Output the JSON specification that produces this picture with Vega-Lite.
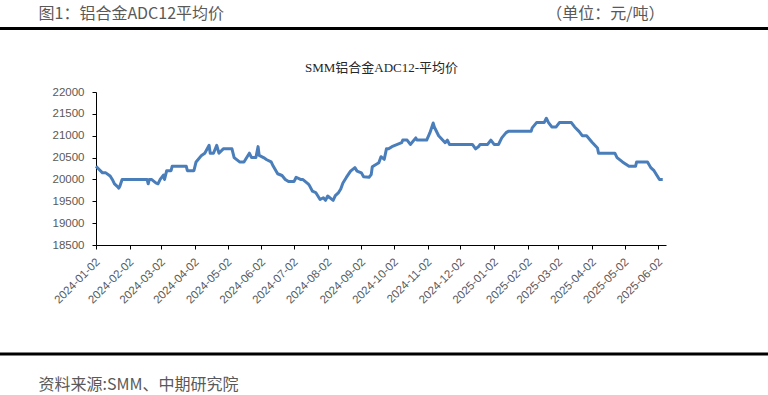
{
  "$schema": "https://vega.github.io/schema/vega-lite/v6.json",
  "width": 570,
  "height": 153,
  "autosize": {"type": "none"},
  "padding": {"left": 96, "top": 92, "right": 102, "bottom": 150},
  "background": "white",
  "config": {"view": {"stroke": null}},
  "resolve": {"axis": {"x": "independent", "y": "independent"}},
  "layer": [
    {
      "data": {"values": [
        {"date": "2024-01-02", "price": 20300},
        {"date": "2024-01-04", "price": 20250},
        {"date": "2024-01-08", "price": 20150},
        {"date": "2024-01-11", "price": 20150},
        {"date": "2024-01-15", "price": 20080},
        {"date": "2024-01-17", "price": 20000},
        {"date": "2024-01-19", "price": 19900},
        {"date": "2024-01-22", "price": 19830},
        {"date": "2024-01-23", "price": 19800},
        {"date": "2024-01-24", "price": 19850},
        {"date": "2024-01-26", "price": 20000},
        {"date": "2024-02-08", "price": 20000},
        {"date": "2024-02-18", "price": 20000},
        {"date": "2024-02-19", "price": 19900},
        {"date": "2024-02-20", "price": 20000},
        {"date": "2024-02-22", "price": 20000},
        {"date": "2024-02-26", "price": 19920},
        {"date": "2024-02-28", "price": 19900},
        {"date": "2024-03-01", "price": 20000},
        {"date": "2024-03-04", "price": 20100},
        {"date": "2024-03-05", "price": 20000},
        {"date": "2024-03-07", "price": 20200},
        {"date": "2024-03-11", "price": 20200},
        {"date": "2024-03-12", "price": 20300},
        {"date": "2024-03-25", "price": 20300},
        {"date": "2024-03-26", "price": 20200},
        {"date": "2024-04-01", "price": 20200},
        {"date": "2024-04-03", "price": 20400},
        {"date": "2024-04-08", "price": 20550},
        {"date": "2024-04-11", "price": 20600},
        {"date": "2024-04-15", "price": 20780},
        {"date": "2024-04-16", "price": 20600},
        {"date": "2024-04-19", "price": 20600},
        {"date": "2024-04-22", "price": 20780},
        {"date": "2024-04-24", "price": 20600},
        {"date": "2024-04-28", "price": 20700},
        {"date": "2024-05-06", "price": 20700},
        {"date": "2024-05-08", "price": 20500},
        {"date": "2024-05-13", "price": 20400},
        {"date": "2024-05-17", "price": 20400},
        {"date": "2024-05-22", "price": 20600},
        {"date": "2024-05-24", "price": 20500},
        {"date": "2024-05-28", "price": 20500},
        {"date": "2024-05-30", "price": 20750},
        {"date": "2024-05-31", "price": 20550},
        {"date": "2024-06-04", "price": 20500},
        {"date": "2024-06-07", "price": 20450},
        {"date": "2024-06-11", "price": 20400},
        {"date": "2024-06-13", "price": 20300},
        {"date": "2024-06-17", "price": 20130},
        {"date": "2024-06-21", "price": 20090},
        {"date": "2024-06-24", "price": 20000},
        {"date": "2024-06-27", "price": 19950},
        {"date": "2024-07-02", "price": 19950},
        {"date": "2024-07-04", "price": 20050},
        {"date": "2024-07-08", "price": 20000},
        {"date": "2024-07-10", "price": 20000},
        {"date": "2024-07-15", "price": 19900},
        {"date": "2024-07-16", "price": 19870},
        {"date": "2024-07-19", "price": 19730},
        {"date": "2024-07-22", "price": 19700},
        {"date": "2024-07-26", "price": 19540},
        {"date": "2024-07-29", "price": 19580},
        {"date": "2024-07-31", "price": 19520},
        {"date": "2024-08-02", "price": 19620},
        {"date": "2024-08-05", "price": 19560},
        {"date": "2024-08-07", "price": 19520},
        {"date": "2024-08-09", "price": 19630},
        {"date": "2024-08-12", "price": 19700},
        {"date": "2024-08-14", "price": 19780},
        {"date": "2024-08-16", "price": 19920},
        {"date": "2024-08-19", "price": 20040},
        {"date": "2024-08-23", "price": 20190},
        {"date": "2024-08-27", "price": 20270},
        {"date": "2024-08-29", "price": 20190},
        {"date": "2024-09-02", "price": 20150},
        {"date": "2024-09-04", "price": 20060},
        {"date": "2024-09-09", "price": 20050},
        {"date": "2024-09-11", "price": 20110},
        {"date": "2024-09-12", "price": 20290},
        {"date": "2024-09-18", "price": 20380},
        {"date": "2024-09-20", "price": 20520},
        {"date": "2024-09-23", "price": 20460},
        {"date": "2024-09-25", "price": 20700},
        {"date": "2024-09-27", "price": 20700},
        {"date": "2024-09-30", "price": 20750},
        {"date": "2024-10-09", "price": 20840},
        {"date": "2024-10-10", "price": 20900},
        {"date": "2024-10-14", "price": 20900},
        {"date": "2024-10-17", "price": 20800},
        {"date": "2024-10-22", "price": 20950},
        {"date": "2024-10-23", "price": 20900},
        {"date": "2024-11-01", "price": 20900},
        {"date": "2024-11-04", "price": 21070},
        {"date": "2024-11-07", "price": 21290},
        {"date": "2024-11-08", "price": 21200},
        {"date": "2024-11-12", "price": 21000},
        {"date": "2024-11-18", "price": 20840},
        {"date": "2024-11-20", "price": 20900},
        {"date": "2024-11-22", "price": 20800},
        {"date": "2024-12-13", "price": 20800},
        {"date": "2024-12-16", "price": 20700},
        {"date": "2024-12-19", "price": 20760},
        {"date": "2024-12-20", "price": 20800},
        {"date": "2024-12-27", "price": 20800},
        {"date": "2024-12-30", "price": 20900},
        {"date": "2025-01-02", "price": 20800},
        {"date": "2025-01-06", "price": 20800},
        {"date": "2025-01-09", "price": 20950},
        {"date": "2025-01-13", "price": 21070},
        {"date": "2025-01-15", "price": 21100},
        {"date": "2025-02-05", "price": 21100},
        {"date": "2025-02-06", "price": 21180},
        {"date": "2025-02-10", "price": 21300},
        {"date": "2025-02-17", "price": 21300},
        {"date": "2025-02-19", "price": 21400},
        {"date": "2025-02-21", "price": 21300},
        {"date": "2025-02-24", "price": 21200},
        {"date": "2025-02-28", "price": 21200},
        {"date": "2025-03-03", "price": 21300},
        {"date": "2025-03-14", "price": 21300},
        {"date": "2025-03-17", "price": 21200},
        {"date": "2025-03-21", "price": 21100},
        {"date": "2025-03-24", "price": 21000},
        {"date": "2025-03-28", "price": 21000},
        {"date": "2025-04-02", "price": 20850},
        {"date": "2025-04-07", "price": 20720},
        {"date": "2025-04-08", "price": 20600},
        {"date": "2025-04-23", "price": 20600},
        {"date": "2025-04-25", "price": 20500},
        {"date": "2025-04-30", "price": 20400},
        {"date": "2025-05-06", "price": 20300},
        {"date": "2025-05-12", "price": 20300},
        {"date": "2025-05-13", "price": 20400},
        {"date": "2025-05-23", "price": 20400},
        {"date": "2025-05-26", "price": 20270},
        {"date": "2025-05-29", "price": 20200},
        {"date": "2025-06-03", "price": 20000},
        {"date": "2025-06-06", "price": 20000}
      ]},
      "mark": {"type": "line", "color": "#4A7EBB", "strokeWidth": 3, "strokeJoin": "round"},
      "encoding": {
        "x": {
          "field": "date",
          "type": "temporal",
          "scale": {"domain": [{"year": 2024, "month": 1, "date": 2}, {"year": 2025, "month": 6, "date": 9}]},
          "axis": {
            "orient": "bottom",
            "values": [
              {"year": 2024, "month": 1, "date": 2}, {"year": 2024, "month": 2, "date": 2},
              {"year": 2024, "month": 3, "date": 2}, {"year": 2024, "month": 4, "date": 2},
              {"year": 2024, "month": 5, "date": 2}, {"year": 2024, "month": 6, "date": 2},
              {"year": 2024, "month": 7, "date": 2}, {"year": 2024, "month": 8, "date": 2},
              {"year": 2024, "month": 9, "date": 2}, {"year": 2024, "month": 10, "date": 2},
              {"year": 2024, "month": 11, "date": 2}, {"year": 2024, "month": 12, "date": 2},
              {"year": 2025, "month": 1, "date": 2}, {"year": 2025, "month": 2, "date": 2},
              {"year": 2025, "month": 3, "date": 2}, {"year": 2025, "month": 4, "date": 2},
              {"year": 2025, "month": 5, "date": 2}, {"year": 2025, "month": 6, "date": 2}
            ],
            "format": "%Y-%m-%d",
            "labelAngle": -45,
            "labelAlign": "right",
            "labelBaseline": "middle",
            "labelFont": "Liberation Sans",
            "labelFontSize": 11.5,
            "labelColor": "#595959",
            "labelPadding": 11,
            "labelOffset": 2,
            "labelOverlap": false,
            "labelFlush": false,
            "domainColor": "#000000",
            "domainWidth": 1,
            "tickColor": "#000000",
            "tickSize": 4,
            "grid": false,
            "title": "资料来源:SMM、中期研究院",
            "titleFont": "Noto Sans CJK SC",
            "titleFontSize": 16,
            "titleFontWeight": "normal",
            "titleColor": "#595959",
            "titleAnchor": "start",
            "titleAlign": "left",
            "titleBaseline": "middle",
            "titleX": -58,
            "titleY": 139
          }
        },
        "y": {
          "field": "price",
          "type": "quantitative",
          "scale": {"domain": [18500, 22000], "nice": false, "zero": false},
          "axis": {
            "orient": "left",
            "values": [18500, 19000, 19500, 20000, 20500, 21000, 21500, 22000],
            "format": "d",
            "labelFont": "Liberation Sans",
            "labelFontSize": 11.5,
            "labelColor": "#595959",
            "labelPadding": 8,
            "domainColor": "#000000",
            "domainWidth": 1,
            "tickColor": "#000000",
            "tickSize": 4,
            "grid": false,
            "title": "图1：铝合金ADC12平均价",
            "titleFont": "Noto Sans CJK SC",
            "titleFontSize": 16,
            "titleFontWeight": "normal",
            "titleColor": "#595959",
            "titleAngle": 0,
            "titleAlign": "left",
            "titleBaseline": "middle",
            "titleX": -58,
            "titleY": -79
          }
        }
      }
    },
    {
      "data": {"values": [{}]},
      "mark": {"type": "rule", "color": "#000000", "strokeWidth": 3},
      "encoding": {
        "x": {
          "datum": {"year": 2023, "month": 9, "date": 1},
          "type": "temporal",
          "scale": {"domain": [{"year": 2024, "month": 1, "date": 2}, {"year": 2025, "month": 6, "date": 9}]},
          "axis": {
            "orient": "top",
            "domain": false,
            "ticks": false,
            "labels": false,
            "grid": false,
            "title": "SMM铝合金ADC12-平均价",
            "titleFont": "Liberation Serif, Noto Sans CJK SC",
            "titleFontSize": 13,
            "titleFontWeight": "normal",
            "titleColor": "#262626",
            "titleAlign": "center",
            "titleBaseline": "middle",
            "titleX": 285,
            "titleY": -25
          }
        },
        "x2": {"datum": {"year": 2025, "month": 11, "date": 1}},
        "y": {
          "datum": 23452,
          "type": "quantitative",
          "scale": {"domain": [18500, 22000], "nice": false, "zero": false},
          "axis": {
            "orient": "right",
            "domain": false,
            "ticks": false,
            "labels": false,
            "grid": false,
            "title": "（单位：元/吨）",
            "titleFont": "Noto Sans CJK SC",
            "titleFontSize": 16,
            "titleFontWeight": "normal",
            "titleColor": "#595959",
            "titleAngle": 0,
            "titleAlign": "right",
            "titleBaseline": "middle",
            "titleX": -2,
            "titleY": -79
          }
        }
      }
    },
    {
      "data": {"values": [{}]},
      "mark": {"type": "rule", "color": "#000000", "strokeWidth": 3},
      "encoding": {
        "x": {
          "datum": {"year": 2023, "month": 9, "date": 1},
          "type": "temporal",
          "scale": {"domain": [{"year": 2024, "month": 1, "date": 2}, {"year": 2025, "month": 6, "date": 9}]},
          "axis": null
        },
        "x2": {"datum": {"year": 2025, "month": 11, "date": 1}},
        "y": {
          "datum": 16006,
          "type": "quantitative",
          "scale": {"domain": [18500, 22000], "nice": false, "zero": false},
          "axis": null
        }
      }
    }
  ]
}
